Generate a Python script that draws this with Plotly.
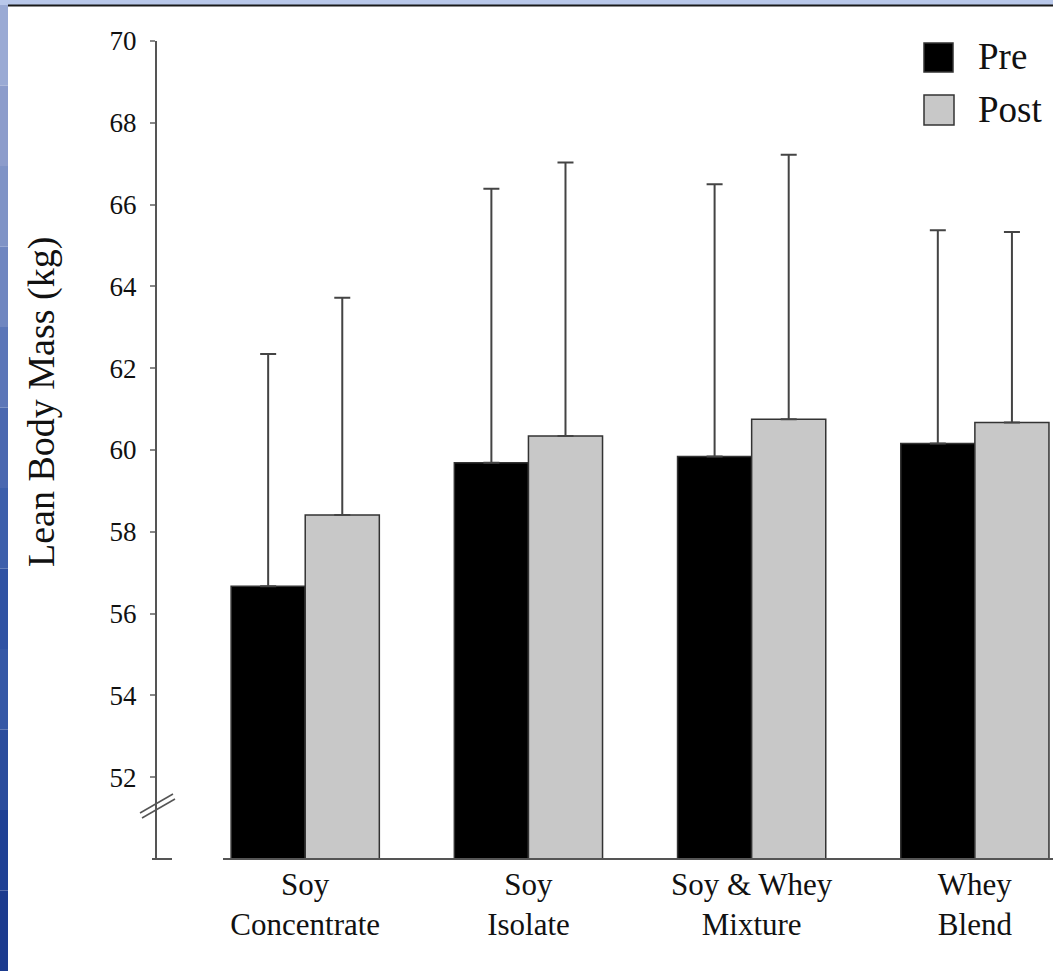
import plotly.graph_objects as go

# ---- data ----
categories = ["Soy<br>Concentrate", "Soy<br>Isolate", "Soy & Whey<br>Mixture", "Whey<br>Blend"]
pre_mean = [56.67, 59.69, 59.84, 60.16]
post_mean = [58.41, 60.34, 60.75, 60.67]
pre_sd = [5.68, 6.70, 6.66, 5.21]
post_sd = [5.31, 6.69, 6.47, 4.66]
y_ticks = [52, 54, 56, 58, 60, 62, 64, 66, 68, 70]
series_names = ["Pre", "Post"]

W, H = 1053, 971
L, R, T, B = 157, 1053, 41, 859  # plot area in pixels
FONT = "Liberation Serif"


def px(x):
    return (x - L) / (R - L)


def py(y):
    return 1 - (y - T) / (B - T)


fig = go.Figure()
fig.add_trace(go.Bar(
    x=categories, y=pre_mean, name=series_names[0], showlegend=False,
    marker=dict(color="#000000", line=dict(color="#333333", width=1.5)),
    error_y=dict(type="data", array=pre_sd, arrayminus=[0] * len(pre_sd), symmetric=False,
                 color="#444444", thickness=2, width=8),
))
fig.add_trace(go.Bar(
    x=categories, y=post_mean, name=series_names[1], showlegend=False,
    marker=dict(color="#c8c8c8", line=dict(color="#333333", width=1.5)),
    error_y=dict(type="data", array=post_sd, arrayminus=[0] * len(post_sd), symmetric=False,
                 color="#444444", thickness=2, width=8),
))

shapes = []
# slide background decorations
shapes.append(dict(type="rect", xref="paper", yref="paper", x0=px(0), x1=px(W), y0=py(0), y1=py(5),
                   fillcolor="#b9c8ea", line=dict(width=0), layer="below"))
blues = ["#9aaad4", "#8c9ccb", "#7f93c6", "#6f86c0", "#5b76b8", "#4a68b0", "#3d5fab",
         "#2f52a3", "#3558a6", "#2a4c9c", "#1f4195", "#1c3b8e"]
n = len(blues)
for i, c in enumerate(blues):
    shapes.append(dict(type="rect", xref="paper", yref="paper", x0=px(0), x1=px(8),
                       y0=py(5 + (H - 5) * i / n), y1=py(5 + (H - 5) * (i + 1) / n),
                       fillcolor=c, line=dict(width=0), layer="below"))
shapes.append(dict(type="line", xref="paper", yref="paper", x0=px(8), x1=px(W), y0=py(5.5), y1=py(5.5),
                   line=dict(color="#1a1a1a", width=2)))
# x baseline
shapes.append(dict(type="line", xref="paper", yref="paper", x0=px(223), x1=1, y0=0, y1=0,
                   line=dict(color="#555555", width=2)))
# bottom tick on y axis
shapes.append(dict(type="line", xref="paper", yref="paper", x0=px(152), x1=px(172), y0=0, y1=0,
                   line=dict(color="#555555", width=2)))
# axis break marks
shapes.append(dict(type="line", xref="paper", yref="paper", x0=px(140), x1=px(173), y0=py(813), y1=py(794),
                   line=dict(color="#555555", width=1.5)))
shapes.append(dict(type="line", xref="paper", yref="paper", x0=px(142), x1=px(175), y0=py(818), y1=py(799),
                   line=dict(color="#555555", width=1.5)))
# legend keys
shapes.append(dict(type="rect", xref="paper", yref="paper", x0=px(924), x1=px(953), y0=py(72), y1=py(43),
                   fillcolor="#000000", line=dict(color="#333333", width=1.5)))
shapes.append(dict(type="rect", xref="paper", yref="paper", x0=px(924), x1=px(954), y0=py(125), y1=py(95),
                   fillcolor="#c8c8c8", line=dict(color="#333333", width=1.5)))

annotations = [
    dict(text=series_names[0], xref="paper", yref="paper", x=px(976), y=py(57), xanchor="left",
         yanchor="middle", showarrow=False, font=dict(family=FONT, size=37, color="#111111")),
    dict(text=series_names[1], xref="paper", yref="paper", x=px(976), y=py(110), xanchor="left",
         yanchor="middle", showarrow=False, font=dict(family=FONT, size=37, color="#111111")),
    dict(text="Lean Body Mass (kg)", xref="paper", yref="paper", x=px(42), y=py(402), textangle=-90,
         xanchor="center", yanchor="middle", showarrow=False,
         font=dict(family=FONT, size=38, color="#111111")),
]

fig.update_layout(
    width=W, height=H,
    margin=dict(l=L, r=W - R, t=T, b=H - B, pad=0),
    paper_bgcolor="white", plot_bgcolor="white",
    barmode="group", bargap=0.336, bargroupgap=0,
    font=dict(family=FONT, color="#111111"),
    shapes=shapes, annotations=annotations,
    showlegend=False,
    xaxis=dict(range=[-0.664, 3.35], showline=False, showgrid=False, zeroline=False, ticks="",
               tickfont=dict(family=FONT, size=31, color="#111111"), ticklabelstandoff=4, fixedrange=True),
    yaxis=dict(range=[50, 70], tickvals=y_ticks, showline=True, linecolor="#555555", linewidth=2,
               ticks="outside", ticklen=5, tickwidth=1.5, tickcolor="#888888", showgrid=False,
               zeroline=False, tickfont=dict(family=FONT, size=27, color="#111111"),
               ticklabelstandoff=8, fixedrange=True),
)

fig.write_html(
    "out.html",
    config={"displayModeBar": False},
    post_script="document.body.style.margin='0';document.body.style.overflow='hidden';",
)
